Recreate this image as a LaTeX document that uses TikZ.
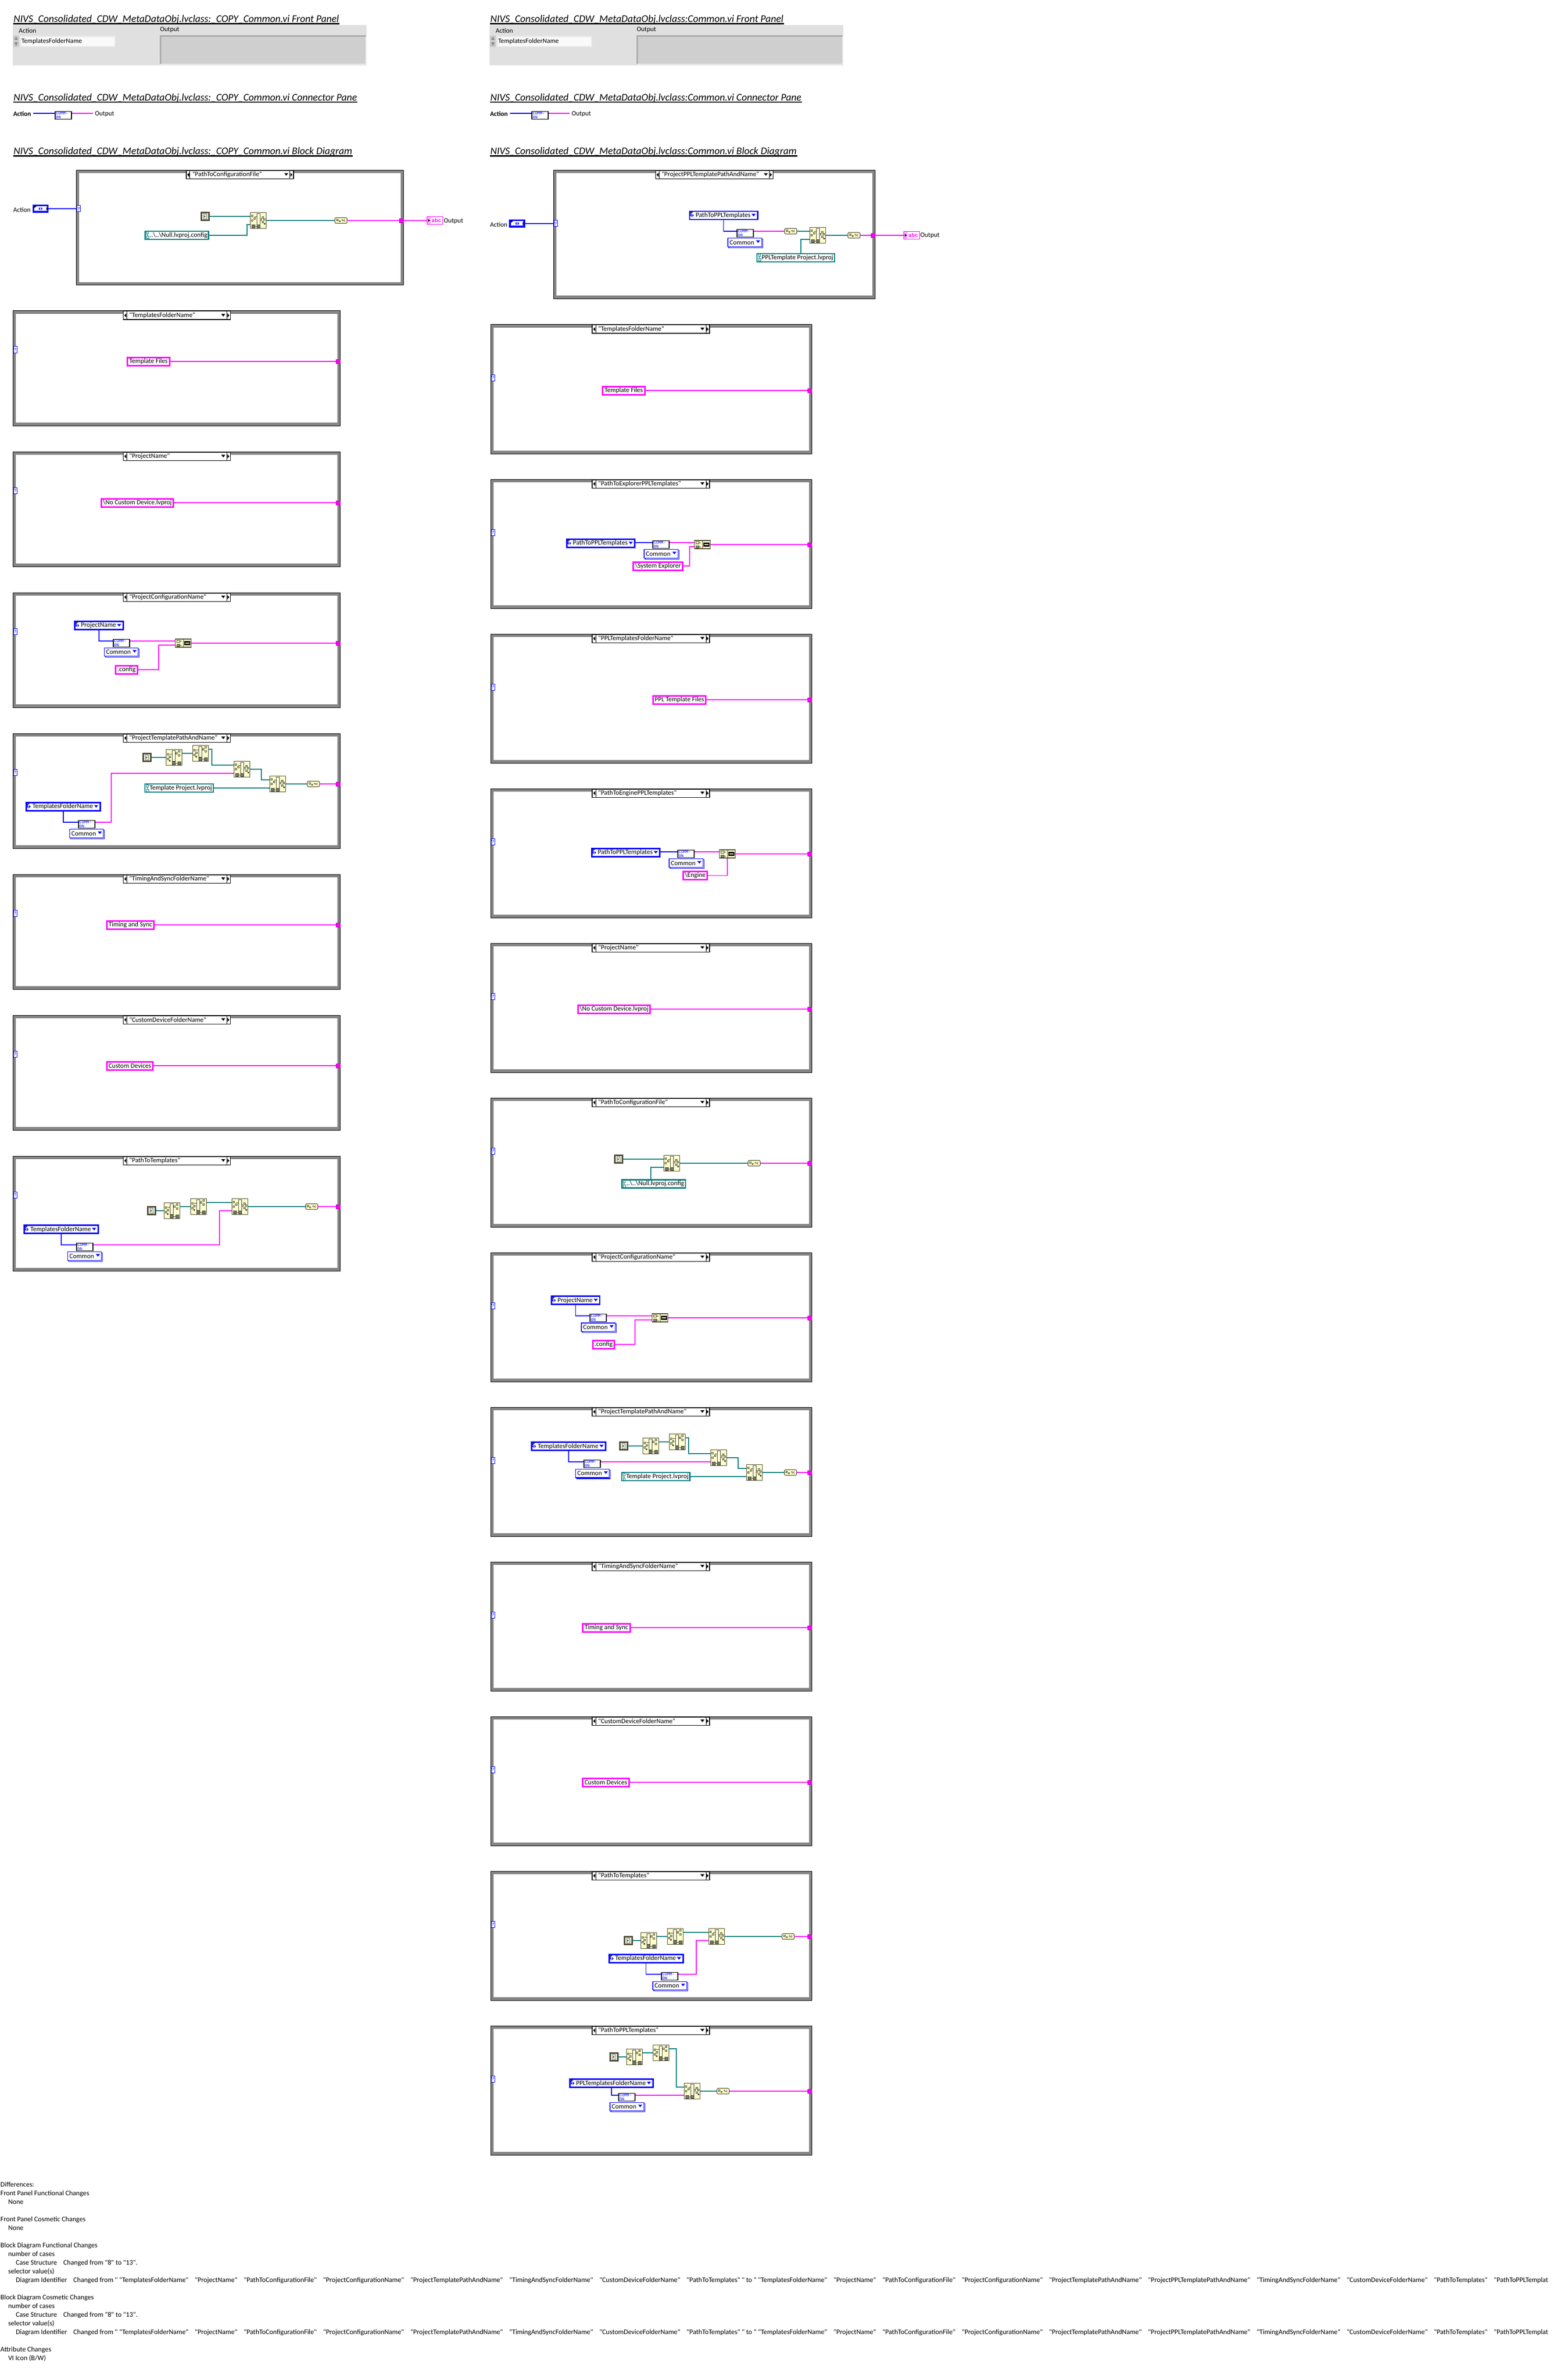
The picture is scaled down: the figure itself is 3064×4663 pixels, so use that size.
\documentclass[tikz,border=0pt]{standalone}
\usepackage{fontspec}
\newfontfamily\lvmain{Carlito}
\newfontfamily\iconfont{Liberation Mono}
\usetikzlibrary{shadows}

\definecolor{lvblue}{RGB}{0,0,255}
\definecolor{lvpink}{RGB}{255,0,255}
\definecolor{lvteal}{RGB}{0,128,128}
\definecolor{iconline}{RGB}{77,77,51}
\definecolor{iconfill}{RGB}{255,255,204}
\definecolor{panelbg}{RGB}{224,224,224}

\newdimen\lvpx
\lvpx=0.2pt
\newcommand{\lvfont}{\lvmain\fontsize{2.6}{3.1}\selectfont}
\newcommand{\ttlfont}{\lvmain\fontsize{4.0}{4.8}\selectfont\itshape}
\newcommand{\pinsq}[2]{\draw (#1-1.5,#2-1.5) rectangle (#1+1.5,#2+1.5);}
\newcommand{\chksq}[2]{\draw[fill=black!55] (#1-3,#2-3) rectangle (#1+3,#2+3);}
\newcommand{\gapq}{\hspace{2.5pt}}
% point at (x,y) pixels from an anchor of the node being filled
\newcommand{\ppt}[3]{([xshift=#2*0.2pt,yshift=-#3*0.2pt]path picture bounding box.#1)}

\tikzset{%
    lvlabel/.style={inner sep=0pt,outer xsep=.8pt,xshift=-.8pt,font=\lvfont,anchor=west},
    heading/.style={inner sep=0pt,anchor=base west,font=\ttlfont,
        append after command={([yshift=-.55pt]\tikzlastnode.base west) edge[line width=.5pt] ([yshift=-.55pt]\tikzlastnode.base east)}},
    strwire/.style={draw=lvpink,line width=.36pt},
    pathwire/.style={draw=lvteal,line width=.36pt},
    enumwire/.style={draw=lvblue,line width=.25pt},
    caseband/.style={draw=black!48,line width=1.2pt},
    caseedge/.style={draw=black,line width=.2pt},
    caselab/.style={draw=black,line width=.3pt,fill=white,inner sep=0pt,anchor=north west,
        minimum height=3.3pt,font=\lvfont,path picture={
            \draw[line width=.2pt] \ppt{west}{7}{-9} -- \ppt{west}{7}{9};
            \fill[black] \ppt{west}{2}{0} -- \ppt{west}{6}{-4} -- \ppt{west}{6}{4} -- cycle;
            \draw[line width=.2pt] \ppt{east}{-7}{-9} -- \ppt{east}{-7}{9};
            \fill[black] \ppt{east}{-2}{0} -- \ppt{east}{-6}{-4} -- \ppt{east}{-6}{4} -- cycle;
            \fill[black] \ppt{east}{-18}{-3} -- \ppt{east}{-10}{-3} -- \ppt{east}{-14}{2} -- cycle;}},
    selq/.style={draw=lvblue,line width=.2pt,fill=white,inner sep=0pt,text=lvblue,
        minimum width=1.4pt,minimum height=2.4pt,font=\iconfont\fontsize{1.9}{2}\selectfont},
    tunnel/.style={fill=lvpink,draw=lvpink!70!black,line width=.1pt,inner sep=0pt,minimum size=1.6pt},
    enumctl/.style={draw=lvblue,line width=.7pt,fill=white,inner sep=0pt,
        minimum width=5.6pt,minimum height=2.5pt,path picture={
            \fill[black] \ppt{north west}{0}{0} -- \ppt{north west}{8}{0} -- \ppt{north west}{0}{6} -- cycle;
            \fill[lvblue] \ppt{center}{-1}{-3} -- \ppt{center}{-1}{3} -- \ppt{center}{-4}{0} -- cycle;
            \fill[lvblue] \ppt{center}{1}{-3} -- \ppt{center}{1}{3} -- \ppt{center}{4}{0} -- cycle;
            \fill[black] \ppt{center}{11}{-3} -- \ppt{center}{11}{3} -- \ppt{center}{14}{0} -- cycle;}},
    enumind/.style={draw=lvpink,line width=.35pt,fill=white,inner sep=0pt,text=lvpink,
        minimum width=6.2pt,minimum height=3pt,font=\iconfont\bfseries\fontsize{2.1}{2.3}\selectfont,
        execute at begin node={\hskip1.2pt},path picture={
            \fill[lvpink!30] \ppt{west}{0}{-8} rectangle \ppt{west}{7}{8};
            \fill[black] \ppt{west}{2}{-3} -- \ppt{west}{2}{3} -- \ppt{west}{6}{0} -- cycle;}},
    enumc/.style={draw=lvblue,line width=.55pt,fill=white,inner sep=0pt,minimum height=3.2pt,font=\lvfont,
        execute at begin node={\hskip2.4pt},execute at end node={\hskip2.8pt},path picture={
            \fill[black!75] \ppt{north west}{0}{0} -- \ppt{north west}{8}{0} -- \ppt{north west}{0}{8} -- cycle;
            \fill[lvblue] \ppt{west}{4}{-3} -- \ppt{west}{4}{3} -- \ppt{west}{1}{0} -- cycle;
            \fill[lvblue] \ppt{west}{5.5}{-3} -- \ppt{west}{5.5}{3} -- \ppt{west}{8.5}{0} -- cycle;
            \fill[lvblue] \ppt{east}{-12}{-3} -- \ppt{east}{-4}{-3} -- \ppt{east}{-8}{2} -- cycle;}},
    ringc/.style={draw=lvblue,line width=.25pt,fill=white,inner sep=0pt,minimum height=3.3pt,font=\lvfont,
        copy shadow={shadow xshift=.4pt,shadow yshift=-.4pt,draw=lvblue,line width=.25pt,fill=white},
        execute at begin node={\hskip.7pt},execute at end node={\hskip2.9pt},path picture={
            \fill[lvblue] \ppt{east}{-11}{-4} -- \ppt{east}{-3}{-4} -- \ppt{east}{-7}{1} -- cycle;}},
    strc/.style={draw=lvpink,line width=.6pt,fill=white,inner xsep=.7pt,inner ysep=0pt,
        minimum height=3.2pt,font=\lvfont},
    pathc/.style={draw=lvteal,line width=.5pt,fill=white,inner xsep=.5pt,inner ysep=0pt,
        minimum height=3.2pt,font=\lvfont,execute at begin node={\hskip1.3pt},path picture={
            \draw[lvteal,line width=.2pt] \ppt{west}{3}{-7} rectangle \ppt{west}{6.5}{-2};
            \draw[lvteal,line width=.2pt] \ppt{west}{4.5}{-2} -- \ppt{west}{4.5}{2};
            \draw[lvteal,line width=.2pt] \ppt{west}{3.5}{2} rectangle \ppt{west}{7}{7};}},
    commvi/.style={draw=black,line width=.25pt,fill=white,inner xsep=.3pt,inner ysep=0pt,text=lvblue,align=left,
        text width=5.8pt,minimum height=3.1pt,font=\iconfont\fontsize{1.6}{1.5}\selectfont},
    curvi/.style={draw=iconline,line width=.55pt,fill=black!6,inner sep=0pt,minimum size=3pt,path picture={
            \begin{scope}[color=iconline,line width=.15pt]
                \draw (-3,-5) -- (1,-5) -- (3,-3) -- (3,5) -- (-3,5) -- cycle;
                \fill (-2,-2) -- (-2,2) -- (1,0) -- cycle;
            \end{scope}}},
    tagconv/.style={draw=iconline,line width=.22pt,fill=iconfill,rounded corners=.5pt,inner sep=0pt,
        minimum width=4.8pt,minimum height=2.2pt,path picture={
            \begin{scope}[color=iconline,line width=.15pt,sharp corners]
                \draw (-9,-3) rectangle (-6,0);
                \draw (-4,0) rectangle (-2,2);
                \draw (1,0) -- (3,-2) -- (4,2);
                \draw (8,-2) -- (5,0) -- (8,2);
            \end{scope}}},
    concatv/.style={draw=iconline,line width=.25pt,fill=iconfill,inner sep=0pt,
        minimum width=6.2pt,minimum height=3.2pt,path picture={
            \begin{scope}[color=iconline,line width=.2pt]
                \draw (0,-8) -- (0,8);
                \draw (-13,-6) rectangle (-7,-2);
                \draw[fill=black!45] (-13,2) rectangle (-7,6);
                \draw (-7,-4) -- (-3,-4);
                \draw (-7,4) -- (-3,4);
                \draw[black,line width=.5pt] (3,-2.5) rectangle (13,2.5);
            \end{scope}}},
    buildp/.style={draw=iconline,line width=.25pt,fill=iconfill,inner sep=0pt,minimum size=6.2pt,path picture={
            \begin{scope}[color=iconline,line width=.18pt]
                \draw[fill=iconfill!60!white] (-3,-14) rectangle (3,8);
                \pinsq{-12}{-9} \pinsq{-7}{-4} \pinsq{-12}{0}
                \draw (-7,-8) -- (-3,-8);
                \chksq{-10}{11} \chksq{0}{11}
                \draw (-7,11) -- (-3,11);
                \pinsq{9}{-6} \pinsq{5}{-2} \pinsq{12}{-2} \pinsq{9}{3}
                \fill (11,5) rectangle (14,8);
            \end{scope}}},
    stripp/.style={draw=iconline,line width=.25pt,fill=iconfill,inner sep=0pt,minimum size=6.2pt,path picture={
            \begin{scope}[color=iconline,line width=.18pt]
                \draw[fill=iconfill!60!white] (-4,-14) rectangle (2,7);
                \pinsq{-12}{-6} \pinsq{-8}{-1} \pinsq{-12}{3}
                \fill (-10,5) rectangle (-7,8);
                \draw (-9,-7) -- (-4,-7);
                \chksq{-1}{11} \chksq{10}{11}
                \draw (2,11) -- (7,11);
                \pinsq{10}{-12} \pinsq{5}{-8} \pinsq{10}{-4}
            \end{scope}}}
}

% case frame: name, x1, y1, x2, y2, label x, label width, selector y, label text
\newcommand{\caseframe}[9]{%
    \draw[caseband] (#2+3,#3+3) rectangle (#4-3,#5-3);
    \draw[caseedge] (#2,#3) rectangle (#4,#5);
    \node[caselab] (#1lab) at (#6,#3) {\makebox[#7\lvpx][l]{\hskip12\lvpx #9}};
    \node[selq] (#1sel) at (#2+4.5,#8) {?};
}
\newcommand{\caseL}[3]{\caseframe{#1}{25}{#2}{666.5}{#2+225}{240.6}{210}{#2+76}{#3}}
\newcommand{\caseR}[3]{\caseframe{#1}{961}{#2}{1590.5}{#2+253}{1159.3}{230}{#2+104}{#3}}

\begin{document}
\begin{tikzpicture}[x=0.2pt,y=-0.2pt]
    \useasboundingbox (0,0) rectangle (3064,4663);

    % headings
    \node[heading] (t1) at (25.7,44) {NIVS\_Consolidated\_CDW\_MetaDataObj.lvclass:\_COPY\_Common.vi Front Panel};
    \node[heading] (t2) at (25.7,197.3) {NIVS\_Consolidated\_CDW\_MetaDataObj.lvclass:\_COPY\_Common.vi Connector Pane};
    \node[heading] (t3) at (25.7,302.7) {NIVS\_Consolidated\_CDW\_MetaDataObj.lvclass:\_COPY\_Common.vi Block Diagram};
    \node[heading] (t4) at (959.6,44) {NIVS\_Consolidated\_CDW\_MetaDataObj.lvclass:Common.vi Front Panel};
    \node[heading] (t5) at (959.6,197.3) {NIVS\_Consolidated\_CDW\_MetaDataObj.lvclass:Common.vi Connector Pane};
    \node[heading] (t6) at (959.6,302.7) {NIVS\_Consolidated\_CDW\_MetaDataObj.lvclass:Common.vi Block Diagram};

    % front panel, left
    \fill[panelbg] (25,49) rectangle (717.7,127.8);
    \fill[black!22] (26,70) rectangle (37,80);
    \fill[black!22] (26,81) rectangle (37,92);
    \fill[black!45] (28,78) -- (35,78) -- (31.5,72) -- cycle;
    \fill[black!45] (28,83) -- (35,83) -- (31.5,90) -- cycle;
    \draw[black!8,line width=.5pt,fill=black!2] (40.5,71.5) rectangle (225,91);
    \fill[black!19] (314,70) rectangle (716,125);
    \draw[black!33,line width=.5pt] (314.5,125) -- (314.5,70.5) -- (716.5,70.5);
    \draw[black!8,line width=.4pt] (314.5,126) -- (716.5,126) -- (716.5,71);
    \node[lvlabel] (fpa1) at (37,60.5) {Action};
    \node[lvlabel] (fpo1) at (313.5,58) {Output};
    \node[lvlabel] (fpr1) at (42,81) {TemplatesFolderName};

    % front panel, right
    \fill[panelbg] (959,49) rectangle (1652,127.8);
    \fill[black!22] (960,70) rectangle (971,80);
    \fill[black!22] (960,81) rectangle (971,92);
    \fill[black!45] (962,78) -- (969,78) -- (965.5,72) -- cycle;
    \fill[black!45] (962,83) -- (969,83) -- (965.5,90) -- cycle;
    \draw[black!8,line width=.5pt,fill=black!2] (974.5,71.5) rectangle (1159,91);
    \fill[black!19] (1248,70) rectangle (1650,125);
    \draw[black!33,line width=.5pt] (1248.5,125) -- (1248.5,70.5) -- (1650.5,70.5);
    \draw[black!8,line width=.4pt] (1248.5,126) -- (1650.5,126) -- (1650.5,71);
    \node[lvlabel] (fpa2) at (971,60.5) {Action};
    \node[lvlabel] (fpo2) at (1247.5,58) {Output};
    \node[lvlabel] (fpr2) at (976,81) {TemplatesFolderName};

    % connector panes
    \node[lvlabel,font=\lvfont\bfseries] (cpa1) at (26,223) {Action};
    \node[commvi] (cp1) at (124,226) {COMM-\\ON};
    \node[lvlabel] (cpo1) at (186,223) {Output};
    \draw[enumwire] ([yshift=.8pt]cp1.west -| cpa1.east) -- ([yshift=.8pt]cp1.west);
    \draw[strwire] ([yshift=.8pt]cp1.east) -- ([yshift=.8pt]cp1.east -| cpo1.west);

    \node[lvlabel,font=\lvfont\bfseries] (cpa2) at (960,223) {Action};
    \node[commvi] (cp2) at (1058,226) {COMM-\\ON};
    \node[lvlabel] (cpo2) at (1120,223) {Output};
    \draw[enumwire] ([yshift=.8pt]cp2.west -| cpa2.east) -- ([yshift=.8pt]cp2.west);
    \draw[strwire] ([yshift=.8pt]cp2.east) -- ([yshift=.8pt]cp2.east -| cpo2.west);

    % top frame, left
    \caseframe{cfg}{149.4}{333.3}{790.5}{558.7}{364}{210}{409}{"PathToConfigurationFile"}
    \node[lvlabel] (cfga) at (26,411) {Action};
    \node[enumctl] (cfgc) at (79.5,409) {};
    \node[curvi] (cfgv) at (402,424) {};
    \node[pathc] (cfgp) at (346.5,461) {..\textbackslash..\textbackslash Null.lvproj.config};
    \node[buildp] (cfgb) at (506,432) {};
    \node[tagconv] (cfgt) at (668,432) {};
    \node[tunnel] (cfgo) at (786.5,432) {};
    \node[enumind] (cfgi) at (852,432) {abc};
    \node[lvlabel] (cfgl) at (869.6,433) {Output};
    \draw[enumwire] (cfgc.east) -- (cfgc.east -| cfgsel.west);
    \draw[pathwire] (cfgv.east) -- (cfgv.east -| cfgb.west);
    \draw[pathwire] (cfgp.east) -- ++(74,0) |- ([yshift=-1.6pt]cfgb.west);
    \draw[pathwire] (cfgb.east) -- (cfgt.west);
    \draw[strwire] (cfgt.east) -- (cfgo.west);
    \draw[strwire] (cfgo.east) -- (cfgi.west);

    % top frame, right
    \caseframe{ppl}{1084}{333.3}{1714.6}{585.5}{1283.5}{230}{438}{"ProjectPPLTemplatePathAndName"}
    \node[lvlabel] (ppla) at (960,440) {Action};
    \node[enumctl] (pplc) at (1013,438) {};
    \node[enumc] (ppln) at (1417.6,422) {PathToPPLTemplates};
    \node[ringc] (pplr) at (1459,475) {Common};
    \node[commvi] (pplm) at (1460,457) {COMM-\\ON};
    \node[tagconv] (pplt) at (1549,453) {};
    \node[buildp] (pplb) at (1602,461) {};
    \node[pathc] (pplp) at (1559,505) {PPLTemplate Project.lvproj};
    \node[tagconv] (pplu) at (1673,461) {};
    \node[tunnel] (pplo) at (1710.5,461) {};
    \node[enumind] (ppli) at (1786,461) {abc};
    \node[lvlabel] (ppll) at (1803,461) {Output};
    \draw[enumwire] (pplc.east) -- (pplc.east -| pplsel.west);
    \draw[enumwire] (ppln.south) |- ([yshift=.8pt]pplm.west);
    \draw[strwire] ([yshift=.8pt]pplm.east) -- ([yshift=.8pt]pplm.east -| pplt.west);
    \draw[pathwire] (pplt.east) -- (pplt.east -| pplb.west);
    \draw[pathwire] ([xshift=2pt]pplp.north) |- ([yshift=-1.6pt]pplb.west);
    \draw[pathwire] (pplb.east) -- (pplu.west);
    \draw[strwire] (pplu.east) -- (pplo.west);
    \draw[strwire] (pplo.east) -- (ppli.west);

    % left column
    \caseL{la}{609}{"TemplatesFolderName"}
    \node[strc] (lastr) at (291,708) {Template Files};
    \node[tunnel] (laout) at (662.5,708) {};
    \draw[strwire] (lastr.east) -- (laout.west);

    \caseL{lb}{885}{"ProjectName"}
    \node[strc] (lbstr) at (269,985) {\textbackslash No Custom Device.lvproj};
    \node[tunnel] (lbout) at (662.5,985) {};
    \draw[strwire] (lbstr.east) -- (lbout.west);

    \caseL{lc}{1161}{"ProjectConfigurationName"}
    \node[enumc] (lcn) at (194,1225.5) {ProjectName};
    \node[ringc] (lcr) at (237.5,1277.6) {Common};
    \node[commvi] (lcm) at (238,1260) {COMM-\\ON};
    \node[strc] (lcstr) at (248,1312) {.config};
    \node[concatv] (lccat) at (359,1260) {};
    \node[tunnel] (lcout) at (662.5,1260) {};
    \draw[enumwire] (lcn.south) |- ([yshift=.8pt]lcm.west);
    \draw[strwire] ([yshift=.8pt]lcm.east) -- ([yshift=.8pt]lccat.west);
    \draw[strwire] (lcstr.east) -- ++(40,0) |- ([yshift=-.8pt]lccat.west);
    \draw[strwire] (lccat.east) -- (lcout.west);

    \caseL{ld}{1437}{"ProjectTemplatePathAndName"}
    \node[curvi] (ldv) at (288,1484) {};
    \node[stripp] (lds1) at (341,1484) {};
    \node[stripp] (lds2) at (393,1476) {};
    \node[buildp] (ldb1) at (474,1507) {};
    \node[buildp] (ldb2) at (544,1536) {};
    \node[tagconv] (ldt) at (614,1536) {};
    \node[tunnel] (ldout) at (662.5,1536) {};
    \node[pathc] (ldp) at (351,1544) {Template Project.lvproj};
    \node[enumc] (ldn) at (124,1580.5) {TemplatesFolderName};
    \node[ringc] (ldr) at (169.5,1633) {Common};
    \node[commvi] (ldm) at (170,1615) {COMM-\\ON};
    \draw[pathwire] (ldv.east) -- (lds1.west);
    \draw[pathwire] ([yshift=1.6pt]lds1.east) -- (lds2.west);
    \draw[pathwire] ([yshift=1.6pt]lds2.east) -- ++(5.5,0) |- ([yshift=1.6pt]ldb1.west);
    \draw[pathwire] (ldb1.east) -- ++(22,0) |- ([yshift=1.6pt]ldb2.west);
    \draw[pathwire] (ldp.east) -- (ldp.east -| ldb2.west);
    \draw[pathwire] (ldb2.east) -- (ldt.west);
    \draw[strwire] (ldt.east) -- (ldout.west);
    \draw[enumwire] (ldn.south) |- ([yshift=.8pt]ldm.west);
    \draw[strwire] ([yshift=.8pt]ldm.east) -- ++(31,0) |- ([yshift=-1.6pt]ldb1.west);

    \caseL{le}{1713}{"TimingAndSyncFolderName"}
    \node[strc] (lestr) at (255.5,1812) {Timing and Sync};
    \node[tunnel] (leout) at (662.5,1812) {};
    \draw[strwire] (lestr.east) -- (leout.west);

    \caseL{lf}{1989}{"CustomDeviceFolderName"}
    \node[strc] (lfstr) at (254.5,2088) {Custom Devices};
    \node[tunnel] (lfout) at (662.5,2088) {};
    \draw[strwire] (lfstr.east) -- (lfout.west);

    \caseL{lg}{2265}{"PathToTemplates"}
    \node[curvi] (lgv) at (297,2372) {};
    \node[stripp] (lgs1) at (337,2372) {};
    \node[stripp] (lgs2) at (389.3,2364) {};
    \node[buildp] (lgb) at (470,2364) {};
    \node[tagconv] (lgt) at (610.7,2364) {};
    \node[tunnel] (lgout) at (662.5,2364) {};
    \node[enumc] (lgn) at (120,2408.7) {TemplatesFolderName};
    \node[ringc] (lgr) at (165.7,2461) {Common};
    \node[commvi] (lgm) at (166,2443) {COMM-\\ON};
    \draw[pathwire] (lgv.east) -- (lgs1.west);
    \draw[pathwire] ([yshift=1.6pt]lgs1.east) -- (lgs2.west);
    \draw[pathwire] ([yshift=1.6pt]lgs2.east) -- ([yshift=1.6pt]lgb.west);
    \draw[pathwire] (lgb.east) -- (lgt.west);
    \draw[strwire] (lgt.east) -- (lgout.west);
    \draw[enumwire] (lgn.south) |- ([yshift=.8pt]lgm.west);
    \draw[strwire] ([yshift=.8pt]lgm.east) -- ++(247,0) |- ([yshift=-1.6pt]lgb.west);

    % right column
    \caseR{ra}{636}{"TemplatesFolderName"}
    \node[strc] (rastr) at (1222,765) {Template Files};
    \node[tunnel] (raout) at (1586.5,765) {};
    \draw[strwire] (rastr.east) -- (raout.west);

    \caseR{rb}{939}{"PathToExplorerPPLTemplates"}
    \node[enumc] (rbn) at (1177,1064.3) {PathToPPLTemplates};
    \node[ringc] (rbr) at (1295,1085) {Common};
    \node[commvi] (rbm) at (1295,1067) {COMM-\\ON};
    \node[strc] (rbstr) at (1289,1109) {\textbackslash System Explorer};
    \node[concatv] (rbcat) at (1376,1067) {};
    \node[tunnel] (rbout) at (1586.5,1067) {};
    \draw[enumwire] ([yshift=.8pt]rbm.west -| rbn.east) -- ([yshift=.8pt]rbm.west);
    \draw[strwire] ([yshift=.8pt]rbm.east) -- ([yshift=.8pt]rbcat.west);
    \draw[strwire] (rbstr.east) -- ++(12,0) |- ([yshift=-.8pt]rbcat.west);
    \draw[strwire] (rbcat.east) -- (rbout.west);

    \caseR{rc}{1242}{"PPLTemplatesFolderName"}
    \node[strc] (rcstr) at (1331,1371) {PPL Template Files};
    \node[tunnel] (rcout) at (1586.5,1371) {};
    \draw[strwire] (rcstr.east) -- (rcout.west);

    \caseR{rd}{1545}{"PathToEnginePPLTemplates"}
    \node[enumc] (rdn) at (1226,1670.3) {PathToPPLTemplates};
    \node[ringc] (rdr) at (1344,1691) {Common};
    \node[commvi] (rdm) at (1344,1673) {COMM-\\ON};
    \node[strc] (rdstr) at (1362,1715.5) {\textbackslash Engine};
    \node[concatv] (rdcat) at (1425,1673) {};
    \node[tunnel] (rdout) at (1586.5,1673) {};
    \draw[enumwire] ([yshift=.8pt]rdm.west -| rdn.east) -- ([yshift=.8pt]rdm.west);
    \draw[strwire] ([yshift=.8pt]rdm.east) -- ([yshift=.8pt]rdcat.west);
    \draw[strwire] (rdstr.east) -| (rdcat.south);
    \draw[strwire] (rdcat.east) -- (rdout.west);

    \caseR{re}{1848}{"ProjectName"}
    \node[strc] (restr) at (1203,1977) {\textbackslash No Custom Device.lvproj};
    \node[tunnel] (reout) at (1586.5,1977) {};
    \draw[strwire] (restr.east) -- (reout.west);

    \caseR{rf}{2151}{"PathToConfigurationFile"}
    \node[curvi] (rfv) at (1212,2271) {};
    \node[buildp] (rfb) at (1316,2279) {};
    \node[pathc] (rfp) at (1280.6,2319.5) {..\textbackslash..\textbackslash Null.lvproj.config};
    \node[tagconv] (rft) at (1477.3,2279) {};
    \node[tunnel] (rfout) at (1586.5,2279) {};
    \draw[pathwire] (rfv.east) -- ([yshift=1.6pt]rfb.west);
    \draw[pathwire] ([xshift=-1.2pt]rfp.north) |- ([yshift=-1.6pt]rfb.west);
    \draw[pathwire] (rfb.east) -- (rft.west);
    \draw[strwire] (rft.east) -- (rfout.west);

    \caseR{rg}{2454}{"ProjectConfigurationName"}
    \node[enumc] (rgn) at (1127.7,2547.7) {ProjectName};
    \node[ringc] (rgr) at (1172,2600.3) {Common};
    \node[commvi] (rgm) at (1172,2582) {COMM-\\ON};
    \node[strc] (rgstr) at (1182.5,2634) {.config};
    \node[concatv] (rgcat) at (1293,2582) {};
    \node[tunnel] (rgout) at (1586.5,2582) {};
    \draw[enumwire] (rgn.south) |- ([yshift=.8pt]rgm.west);
    \draw[strwire] ([yshift=.8pt]rgm.east) -- ([yshift=.8pt]rgcat.west);
    \draw[strwire] (rgstr.east) -- ++(39,0) |- ([yshift=-.8pt]rgcat.west);
    \draw[strwire] (rgcat.east) -- (rgout.west);

    \caseR{rh}{2757}{"ProjectTemplatePathAndName"}
    \node[enumc] (rhn) at (1114,2833.7) {TemplatesFolderName};
    \node[ringc] (rhr) at (1160.7,2886.7) {Common};
    \node[commvi] (rhm) at (1160,2868) {COMM-\\ON};
    \node[curvi] (rhv) at (1222,2833) {};
    \node[stripp] (rhs1) at (1275,2833) {};
    \node[stripp] (rhs2) at (1327,2825) {};
    \node[buildp] (rhb1) at (1408,2856) {};
    \node[buildp] (rhb2) at (1478,2885) {};
    \node[tagconv] (rht) at (1548.7,2885) {};
    \node[tunnel] (rhout) at (1586.5,2885) {};
    \node[pathc] (rhp) at (1284.6,2893) {Template Project.lvproj};
    \draw[pathwire] (rhv.east) -- (rhs1.west);
    \draw[pathwire] ([yshift=1.6pt]rhs1.east) -- (rhs2.west);
    \draw[pathwire] ([yshift=1.6pt]rhs2.east) -- ++(6,0) |- ([yshift=1.6pt]rhb1.west);
    \draw[pathwire] (rhb1.east) -- ++(22,0) |- ([yshift=1.6pt]rhb2.west);
    \draw[pathwire] (rhp.east) -- (rhp.east -| rhb2.west);
    \draw[pathwire] (rhb2.east) -- (rht.west);
    \draw[strwire] (rht.east) -- (rhout.west);
    \draw[enumwire] (rhn.south) |- ([yshift=.8pt]rhm.west);
    \draw[strwire] ([yshift=.8pt]rhm.east) -- ([yshift=.8pt]rhm.east -| rhb1.west);

    \caseR{ri}{3060}{"TimingAndSyncFolderName"}
    \node[strc] (ristr) at (1188,3189) {Timing and Sync};
    \node[tunnel] (riout) at (1586.5,3189) {};
    \draw[strwire] (ristr.east) -- (riout.west);

    \caseR{rj}{3363}{"CustomDeviceFolderName"}
    \node[strc] (rjstr) at (1187,3492) {Custom Devices};
    \node[tunnel] (rjout) at (1586.5,3492) {};
    \draw[strwire] (rjstr.east) -- (rjout.west);

    \caseR{rk}{3666}{"PathToTemplates"}
    \node[curvi] (rkv) at (1231,3802) {};
    \node[stripp] (rks1) at (1271,3802) {};
    \node[stripp] (rks2) at (1323,3794) {};
    \node[buildp] (rkb) at (1404,3794) {};
    \node[tagconv] (rkt) at (1544,3794) {};
    \node[tunnel] (rkout) at (1586.5,3794) {};
    \node[enumc] (rkn) at (1265.8,3837.4) {TemplatesFolderName};
    \node[ringc] (rkr) at (1312,3890.5) {Common};
    \node[commvi] (rkm) at (1312,3872) {COMM-\\ON};
    \draw[pathwire] (rkv.east) -- (rks1.west);
    \draw[pathwire] ([yshift=1.6pt]rks1.east) -- (rks2.west);
    \draw[pathwire] ([yshift=1.6pt]rks2.east) -- ([yshift=1.6pt]rkb.west);
    \draw[pathwire] (rkb.east) -- (rkt.west);
    \draw[strwire] (rkt.east) -- (rkout.west);
    \draw[enumwire] (rkn.south) |- ([yshift=.8pt]rkm.west);
    \draw[strwire] ([yshift=.8pt]rkm.east) -- ++(35,0) |- ([yshift=-1.6pt]rkb.west);

    \caseR{rl}{3969}{"PathToPPLTemplates"}
    \node[curvi] (rlv) at (1203,4030) {};
    \node[stripp] (rls1) at (1243,4030) {};
    \node[stripp] (rls2) at (1295,4022) {};
    \node[buildp] (rlb) at (1356,4097) {};
    \node[tagconv] (rlt) at (1416.6,4097) {};
    \node[tunnel] (rlout) at (1586.5,4097) {};
    \node[enumc] (rln) at (1198,4081.6) {PPLTemplatesFolderName};
    \node[ringc] (rlr) at (1228,4127.5) {Common};
    \node[commvi] (rlm) at (1228,4109) {COMM-\\ON};
    \draw[pathwire] (rlv.east) -- (rls1.west);
    \draw[pathwire] ([yshift=1.6pt]rls1.east) -- (rls2.west);
    \draw[pathwire] ([yshift=1.6pt]rls2.east) -- ++(14,0) |- ([yshift=1.6pt]rlb.west);
    \draw[pathwire] (rlb.east) -- (rlt.west);
    \draw[strwire] (rlt.east) -- (rlout.west);
    \draw[enumwire] (rln.south) |- ([yshift=.8pt]rlm.west);
    \draw[strwire] ([yshift=.8pt]rlm.east) -- ([yshift=.8pt]rlm.east -| rlb.west);

    % list of differences
    \node[inner sep=0pt,anchor=north west,align=left,font=\lvmain\fontsize{2.73}{3.4}\selectfont] (diffs) at (0,4274) {%
        Differences:\\
        Front Panel Functional Changes\\
        \hspace*{3pt}None\\
        \mbox{}\\
        Front Panel Cosmetic Changes\\
        \hspace*{3pt}None\\
        \mbox{}\\
        Block Diagram Functional Changes\\
        \hspace*{3pt}number of cases\\
        \hspace*{6pt}Case Structure\gapq Changed from "8" to "13".\\
        \hspace*{3pt}selector value(s)\\
        \hspace*{6pt}Diagram Identifier\gapq Changed from " "TemplatesFolderName"\gapq "ProjectName"\gapq "PathToConfigurationFile"\gapq "ProjectConfigurationName"\gapq "ProjectTemplatePathAndName"\gapq "TimingAndSyncFolderName"\gapq "CustomDeviceFolderName"\gapq "PathToTemplates" " to " "TemplatesFolderName"\gapq "ProjectName"\gapq "PathToConfigurationFile"\gapq "ProjectConfigurationName"\gapq "ProjectTemplatePathAndName"\gapq "ProjectPPLTemplatePathAndName"\gapq "TimingAndSyncFolderName"\gapq "CustomDeviceFolderName"\gapq "PathToTemplates"\gapq "PathToPPLTemplat\\
        \mbox{}\\
        Block Diagram Cosmetic Changes\\
        \hspace*{3pt}number of cases\\
        \hspace*{6pt}Case Structure\gapq Changed from "8" to "13".\\
        \hspace*{3pt}selector value(s)\\
        \hspace*{6pt}Diagram Identifier\gapq Changed from " "TemplatesFolderName"\gapq "ProjectName"\gapq "PathToConfigurationFile"\gapq "ProjectConfigurationName"\gapq "ProjectTemplatePathAndName"\gapq "TimingAndSyncFolderName"\gapq "CustomDeviceFolderName"\gapq "PathToTemplates" " to " "TemplatesFolderName"\gapq "ProjectName"\gapq "PathToConfigurationFile"\gapq "ProjectConfigurationName"\gapq "ProjectTemplatePathAndName"\gapq "ProjectPPLTemplatePathAndName"\gapq "TimingAndSyncFolderName"\gapq "CustomDeviceFolderName"\gapq "PathToTemplates"\gapq "PathToPPLTemplat\\
        \mbox{}\\
        Attribute Changes\\
        \hspace*{3pt}VI Icon (B/W)};
\end{tikzpicture}
\end{document}
